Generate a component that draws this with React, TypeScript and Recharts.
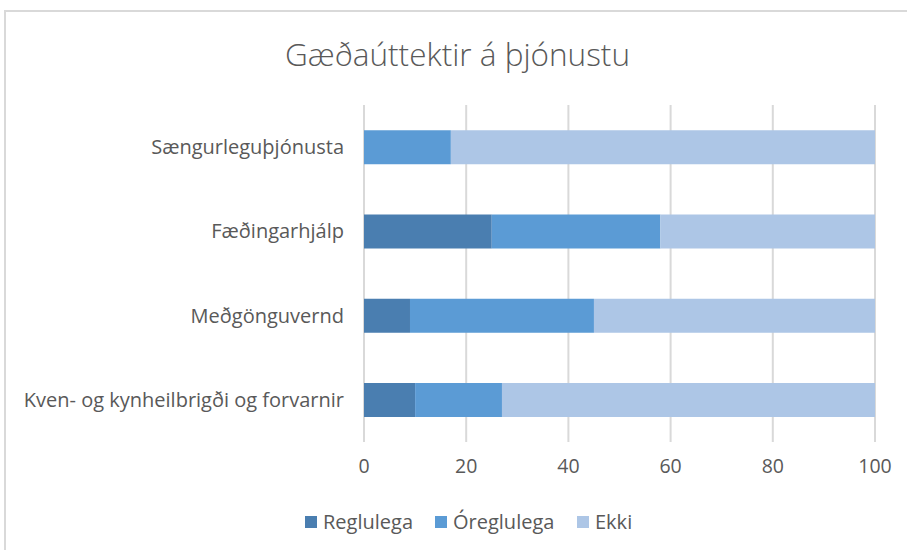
import { Bar, BarChart, CartesianGrid, Legend, XAxis, YAxis } from "recharts";

const categories = [
    "Sængurleguþjónusta",
    "Fæðingarhjálp",
    "Meðgönguvernd",
    "Kven- og kynheilbrigði og forvarnir",
];
const reglulega = [0, 25, 9, 10];
const oreglulega = [17, 33, 36, 17];
const ekki = [83, 42, 55, 73];
const xTicks = [0, 20, 40, 60, 80, 100];

const series = [
    { key: "Reglulega", color: "#4A7EB0", w: 130 },
    { key: "Óreglulega", color: "#5B9BD5", w: 142 },
    { key: "Ekki", color: "#ADC6E6", w: 60 },
];

const data = categories.map((name, i) => ({
    name,
    Reglulega: reglulega[i],
    Óreglulega: oreglulega[i],
    Ekki: ekki[i],
}));

const font = "'Open Sans', sans-serif";

const LegendContent = () => (
    <div style={{ display: "flex", alignItems: "center", fontFamily: font, fontSize: 20, color: "#595959" }}>
        {series.map((s) => (
            <div key={s.key} style={{ display: "flex", alignItems: "center", width: s.w }}>
                <span style={{ width: 12, height: 12, background: s.color, marginRight: 6, display: "inline-block" }} />
                <span>{s.key}</span>
            </div>
        ))}
    </div>
);

const App = () => {
    return (
        <div style={{ position: "absolute", left: 0, top: 0, width: 907, height: 550, overflow: "hidden", background: "#fff" }}>
            <div
                style={{
                    position: "absolute",
                    left: 4,
                    top: 10,
                    width: 1000,
                    height: 600,
                    borderLeft: "2px solid #d9d9d9",
                    borderTop: "2px solid #d9d9d9",
                }}
            />
            <div
                style={{
                    position: "absolute",
                    left: 4,
                    top: 32,
                    width: 907,
                    textAlign: "center",
                    fontFamily: font,
                    fontSize: 31.5,
                    fontWeight: 300,
                    color: "#595959",
                }}
            >
                Gæðaúttektir á þjónustu
            </div>
            <div style={{ position: "absolute", left: 0, top: 0 }}>
                <BarChart
                    width={907}
                    height={550}
                    data={data}
                    layout="vertical"
                    barCategoryGap="30%"
                    margin={{ top: 105, right: 32, left: 0, bottom: 0 }}
                >
                    <CartesianGrid horizontal={false} stroke="#d9d9d9" strokeWidth={2} />
                    <XAxis
                        type="number"
                        domain={[0, 100]}
                        ticks={xTicks}
                        axisLine={false}
                        tickLine={false}
                        tickSize={0}
                        tickMargin={17}
                        height={108}
                        tick={{ fill: "#595959", fontSize: 19.5, fontFamily: font }}
                    />
                    <YAxis
                        type="category"
                        dataKey="name"
                        width={364}
                        axisLine={false}
                        tickLine={false}
                        tickSize={0}
                        tickMargin={20}
                        tick={{ fill: "#595959", fontSize: 20, fontFamily: font }}
                    />
                    <Legend
                        layout="horizontal"
                        verticalAlign="middle"
                        align="center"
                        content={<LegendContent />}
                        wrapperStyle={{ top: 508, left: 305, width: "auto" }}
                    />
                    {series.map((s) => (
                        <Bar key={s.key} dataKey={s.key} stackId="a" fill={s.color} isAnimationActive={false} />
                    ))}
                </BarChart>
            </div>
        </div>
    );
};

export default App;
